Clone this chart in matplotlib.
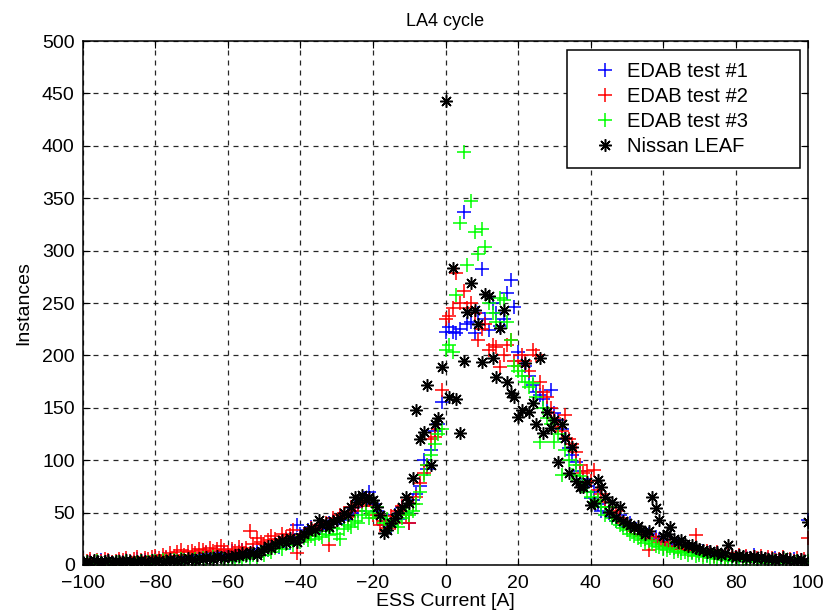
import numpy as np
import matplotlib
matplotlib.use("Agg")
import matplotlib.pyplot as plt

plt.rcParams['font.family'] = ['Liberation Sans', 'DejaVu Sans']

# bin centres of the current histogram [A]
current = np.arange(-100, 101)

edab1 = [3, 2, 4, 3, 2, 5, 3, 4, 2, 3,
         4, 3, 5, 4, 3, 6, 4, 5, 3, 4,
         5, 4, 6, 7, 5, 6, 8, 6, 7, 9,
         8, 10, 7, 9, 11, 8, 10, 12, 9, 11,
         10, 13, 9, 12, 14, 11, 10, 13, 15, 12,
         16, 14, 18, 20, 17, 22, 25, 21, 27, 38,
         30, 28, 33, 36, 31, 35, 38, 34, 40, 42,
         39, 45, 43, 48, 50, 55, 52, 60, 64, 70,
         58, 52, 45, 38, 42, 36, 48, 44, 55, 50,
         40, 62, 68, 75, 100, 92, 110, 128, 135, 156,
         222, 227, 222, 221, 225, 337, 230, 232, 221, 240,
         282, 235, 224, 250, 240, 228, 235, 260, 272, 246,
         203, 195, 190, 180, 172, 165, 162, 158, 150, 167,
         145, 138, 130, 120, 112, 105, 98, 90, 82, 75,
         64, 70, 58, 52, 55, 50, 46, 42, 48, 38,
         36, 40, 34, 30, 32, 28, 30, 25, 27, 24,
         22, 18, 20, 16, 19, 15, 17, 14, 12, 15,
         11, 13, 10, 12, 9, 11, 8, 10, 9, 7,
         8, 9, 6, 8, 7, 10, 6, 7, 5, 6,
         5, 7, 4, 6, 5, 4, 6, 3, 5, 4, 43]

edab2 = [5, 4, 6, 3, 5, 4, 6, 5, 3, 4,
         6, 5, 7, 4, 6, 8, 5, 7, 6, 8,
         9, 7, 10, 8, 11, 9, 12, 14, 10, 12,
         13, 11, 15, 14, 12, 16, 13, 15, 18, 14,
         12, 15, 13, 17, 14, 16, 32, 20, 26, 22,
         20, 24, 28, 25, 22, 30, 27, 29, 33, 11,
         25, 30, 28, 35, 33, 38, 36, 40, 19, 45,
         42, 48, 50, 46, 55, 52, 58, 60, 56, 62,
         48, 45, 38, 42, 35, 47, 40, 52, 56, 48,
         40, 58, 65, 78, 88, 95, 120, 122, 130, 167,
         235, 238, 245, 279, 250, 261, 245, 250, 240, 215,
         225, 230, 205, 210, 208, 189, 200, 210, 215, 195,
         190, 200, 195, 185, 205, 200, 175, 165, 160, 150,
         140, 132, 128, 143, 120, 115, 108, 95, 88, 90,
         80, 91, 72, 68, 60, 55, 50, 52, 45, 40,
         38, 35, 32, 30, 28, 25, 14, 27, 24, 22,
         20, 18, 22, 17, 15, 19, 16, 14, 13, 29,
         12, 10, 13, 11, 9, 12, 10, 8, 11, 9,
         8, 10, 7, 9, 6, 8, 7, 9, 6, 8,
         7, 5, 6, 8, 5, 6, 4, 7, 5, 6, 26]

edab3 = [2, 3, 1, 2, 4, 2, 3, 1, 2, 3,
         3, 2, 4, 3, 2, 3, 4, 2, 3, 4,
         4, 3, 5, 4, 3, 5, 4, 6, 5, 4,
         5, 6, 4, 7, 5, 6, 8, 5, 7, 6,
         4, 7, 5, 8, 6, 9, 7, 10, 8, 12,
         10, 14, 12, 16, 18, 15, 20, 22, 19, 24,
         22, 26, 24, 28, 25, 30, 27, 32, 29, 35,
         30, 25, 34, 38, 36, 42, 40, 48, 52, 45,
         50, 55, 46, 40, 44, 38, 42, 36, 45, 50,
         48, 52, 58, 70, 86, 95, 105, 115, 125, 130,
         205, 210, 203, 258, 326, 394, 286, 347, 318, 297,
         321, 303, 250, 240, 232, 255, 253, 232, 215, 190,
         185, 180, 175, 170, 174, 160, 117, 150, 140, 135,
         117, 125, 86, 110, 100, 86, 95, 85, 78, 70,
         65, 60, 62, 55, 48, 55, 45, 42, 38, 35,
         33, 30, 28, 26, 24, 21, 23, 20, 18, 17,
         15, 14, 16, 12, 13, 11, 12, 10, 11, 9,
         10, 8, 9, 7, 8, 6, 7, 5, 6, 4,
         5, 6, 4, 5, 3, 4, 5, 3, 2, 4,
         3, 4, 2, 3, 5, 2, 3, 4, 2, 3, 4]

leaf = [3, 4, 3, 5, 4, 3, 4, 5, 3, 4,
        4, 3, 5, 4, 3, 4, 5, 4, 3, 5,
        4, 5, 3, 4, 6, 5, 4, 6, 5, 7,
        6, 5, 7, 6, 8, 7, 6, 9, 8, 7,
        9, 8, 10, 9, 11, 10, 12, 11, 10, 13,
        15, 18, 16, 20, 22, 24, 21, 26, 24, 22,
        27, 30, 32, 35, 33, 43, 38, 40, 36, 42,
        43, 45, 50, 48, 55, 65, 60, 67, 62, 65,
        62, 55, 48, 31, 33, 40, 45, 50, 55, 65,
        59, 83, 148, 120, 127, 172, 95, 135, 140, 189,
        443, 160, 283, 158, 126, 195, 241, 269, 243, 230,
        194, 259, 257, 198, 179, 226, 243, 175, 164, 160,
        141, 148, 193, 146, 155, 135, 198, 126, 146, 131,
        138, 98, 135, 121, 88, 113, 80, 74, 74, 79,
        57, 59, 81, 74, 65, 51, 60, 46, 55, 42,
        40, 38, 35, 37, 33, 30, 32, 65, 54, 43,
        28, 30, 36, 25, 22, 24, 20, 18, 19, 16,
        15, 14, 12, 13, 11, 12, 10, 11, 19, 9,
        8, 10, 9, 7, 8, 9, 6, 8, 7, 6,
        7, 5, 6, 8, 5, 6, 4, 5, 6, 4, 41]

fig = plt.figure(figsize=(8.25, 6.16), dpi=100)
ax = fig.add_axes([0.1006, 0.0828, 0.8788, 0.8506])

ax.plot(current, edab1, '+', color='blue', markersize=10, mew=1.1, label='EDAB test #1')
ax.plot(current, edab2, '+', color='red', markersize=10, mew=1.1, label='EDAB test #2')
ax.plot(current, edab3, '+', color=(0, 1, 0), markersize=10, mew=1.1, label='EDAB test #3')
ax.plot(current, leaf, linestyle='none', marker=(8, 2, 0), color='black', markersize=9,
        mew=1.1, label='Nissan LEAF')

ax.set_xlim(-100, 100)
ax.set_ylim(0, 500)
ax.set_xticks(np.arange(-100, 101, 20))
ax.set_yticks(np.arange(0, 501, 50))
ax.grid(True, color='black', linestyle=(0, (4, 4)), linewidth=0.9, alpha=0.85)
ax.tick_params(direction='in', top=True, right=True, labelsize=14, length=5)
ax.tick_params(axis='x', pad=7)
ax.tick_params(axis='y', pad=6)
for s in ax.spines.values():
    s.set_linewidth(1.1)

ax.set_title('LA4 cycle', fontsize=13, pad=11)
ax.set_xlabel('ESS Current [A]', fontsize=14, labelpad=1)
ax.set_ylabel('Instances', fontsize=14, labelpad=7)

leg = ax.legend(loc='upper left', bbox_to_anchor=(0.6676, 0.5, 0.3214, 0.4828),
                mode='expand', borderaxespad=0, fontsize=14.5,
                fancybox=False, framealpha=1, edgecolor='black', handletextpad=-0.2,
                borderpad=0.6, labelspacing=0.3, handlelength=2.6)
leg.get_frame().set_linewidth(1.1)

fig.savefig('out.png', dpi=100)
